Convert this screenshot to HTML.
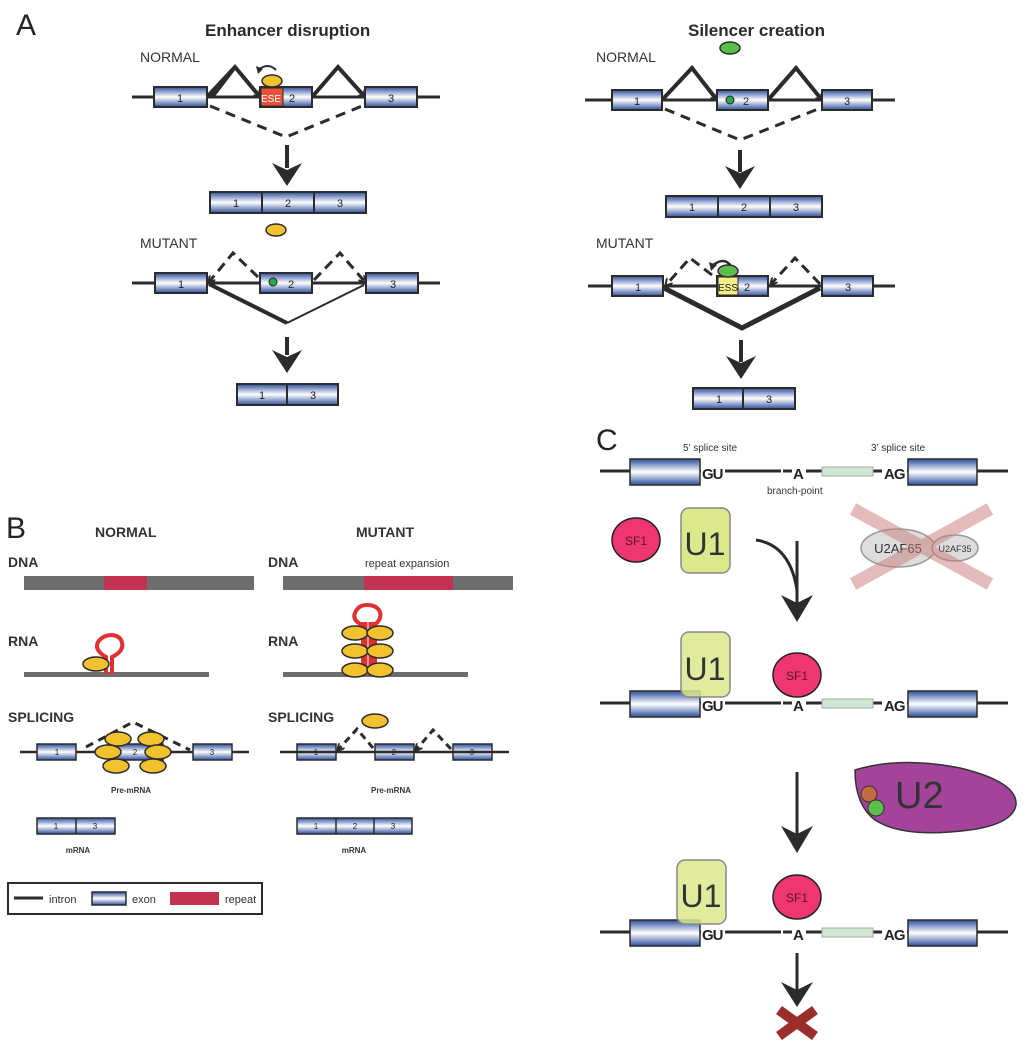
<!DOCTYPE html>
<html><head><meta charset="utf-8"><style>
html,body{margin:0;padding:0;background:#fff}
svg{display:block}
text{font-family:"Liberation Sans",sans-serif}
</style></head><body>
<svg width="1024" height="1044" viewBox="0 0 1024 1044" xmlns="http://www.w3.org/2000/svg">
<defs>
<linearGradient id="ex" x1="0" y1="0" x2="0" y2="1">
<stop offset="0" stop-color="#2d4f9e"/><stop offset="0.5" stop-color="#ffffff"/><stop offset="1" stop-color="#2d4f9e"/>
</linearGradient>
<marker id="ah" markerWidth="8" markerHeight="8" refX="6" refY="4" orient="auto" markerUnits="userSpaceOnUse"><path d="M0,0 L7,4 L0,8" fill="none" stroke="#2b2b2b" stroke-width="2"/></marker>
</defs>
<g fill="#2b2b2b" stroke="none">
<text x="16" y="35" font-size="30" fill="#222">A</text>
<text x="205" y="36" font-size="17" font-weight="bold">Enhancer disruption</text>
<text x="688" y="36" font-size="17" font-weight="bold">Silencer creation</text>
<text x="140" y="62" font-size="14" fill="#333">NORMAL</text>
<text x="140" y="248" font-size="14" fill="#333">MUTANT</text>
<text x="596" y="62" font-size="14" fill="#333">NORMAL</text>
<text x="596" y="248" font-size="14" fill="#333">MUTANT</text>
</g>

<!-- A left NORMAL -->
<g stroke="#2b2b2b" fill="none">
<line x1="132" y1="97" x2="440" y2="97" stroke-width="3"/>
<polyline points="207,97 235,67 260,97" stroke-width="4" marker-end="url(#ah)"/>
<path d="M212,97 L235,67" stroke-width="4"/>
<polyline points="312,97 338,67 365,97" stroke-width="4" marker-end="url(#ah)"/>
<polyline points="210,106 286,137 362,106" stroke-width="3" stroke-dasharray="10,7"/>
<line x1="287" y1="145" x2="287" y2="168" stroke-width="4"/>
</g>
<g stroke="#2b2b2b" stroke-width="2" fill="url(#ex)">
<rect x="154" y="87" width="53" height="20"/>
<rect x="260" y="87" width="52" height="20"/>
<rect x="365" y="87" width="52" height="20"/>
<rect x="210" y="192" width="156" height="21"/>
<line x1="262" y1="192" x2="262" y2="213"/><line x1="314" y1="192" x2="314" y2="213"/>
</g>
<rect x="261" y="88" width="22" height="18" fill="#e8503a" stroke="#2b2b2b" stroke-width="1"/>
<g font-size="11" fill="#222" text-anchor="middle">
<text x="180" y="102">1</text><text x="271" y="102" font-size="10" fill="#fff">ESE</text><text x="292" y="102">2</text><text x="391" y="102">3</text>
<text x="236" y="207">1</text><text x="288" y="207">2</text><text x="340" y="207">3</text>
</g>
<ellipse cx="272" cy="81" rx="10" ry="6" fill="#f2c12e" stroke="#2b2b2b" stroke-width="1.5"/>
<path d="M276,70 Q268,62 258,70" fill="none" stroke="#2b2b2b" stroke-width="2"/>
<path d="M256,66 L258,74 L263,69 Z" fill="#2b2b2b"/>
<path d="M272,163 L287,186 L302,163 L287,170 Z" fill="#2b2b2b"/>

<!-- A left MUTANT -->
<ellipse cx="276" cy="230" rx="10" ry="6" fill="#f2c12e" stroke="#2b2b2b" stroke-width="1.5"/>
<g stroke="#2b2b2b" fill="none">
<line x1="132" y1="283" x2="440" y2="283" stroke-width="3"/>
<polyline points="258,277 233,253 209,282" stroke-width="3" stroke-dasharray="10,6" marker-end="url(#ah)"/>
<polyline points="314,280 340,253 365,282" stroke-width="3" stroke-dasharray="10,6" marker-end="url(#ah)"/>
<path d="M209,284 L287,323" stroke-width="4"/>
<path d="M287,323 L364,285" stroke-width="2"/>
<line x1="287" y1="337" x2="287" y2="355" stroke-width="4"/>
</g>
<g stroke="#2b2b2b" stroke-width="2" fill="url(#ex)">
<rect x="155" y="273" width="52" height="20"/>
<rect x="260" y="273" width="52" height="20"/>
<rect x="366" y="273" width="52" height="20"/>
<rect x="237" y="384" width="101" height="21"/>
<line x1="287" y1="384" x2="287" y2="405"/>
</g>
<circle cx="273" cy="282" r="4" fill="#2ca84a" stroke="#222" stroke-width="1"/>
<g font-size="11" fill="#222" text-anchor="middle">
<text x="181" y="288">1</text><text x="291" y="288">2</text><text x="393" y="288">3</text>
<text x="262" y="399">1</text><text x="313" y="399">3</text>
</g>
<path d="M272,350 L287,373 L302,350 L287,357 Z" fill="#2b2b2b"/>

<!-- A right NORMAL -->
<ellipse cx="730" cy="48" rx="10" ry="6" fill="#5cbf4a" stroke="#2b2b2b" stroke-width="1.5"/>
<g stroke="#2b2b2b" fill="none">
<line x1="585" y1="100" x2="895" y2="100" stroke-width="3"/>
<polyline points="662,100 692,68 717,100" stroke-width="4" marker-end="url(#ah)"/>
<polyline points="768,100 796,68 822,100" stroke-width="4" marker-end="url(#ah)"/>
<polyline points="665,109 740,140 818,109" stroke-width="3" stroke-dasharray="10,7"/>
<line x1="740" y1="150" x2="740" y2="172" stroke-width="4"/>
</g>
<g stroke="#2b2b2b" stroke-width="2" fill="url(#ex)">
<rect x="612" y="90" width="50" height="20"/>
<rect x="717" y="90" width="51" height="20"/>
<rect x="822" y="90" width="50" height="20"/>
<rect x="666" y="196" width="156" height="21"/>
<line x1="718" y1="196" x2="718" y2="217"/><line x1="770" y1="196" x2="770" y2="217"/>
</g>
<circle cx="730" cy="100" r="4" fill="#2ca84a" stroke="#222" stroke-width="1"/>
<g font-size="11" fill="#222" text-anchor="middle">
<text x="637" y="105">1</text><text x="746" y="105">2</text><text x="847" y="105">3</text>
<text x="692" y="211">1</text><text x="744" y="211">2</text><text x="796" y="211">3</text>
</g>
<path d="M725,166 L740,189 L755,166 L740,173 Z" fill="#2b2b2b"/>

<!-- A right MUTANT -->
<g stroke="#2b2b2b" fill="none">
<line x1="588" y1="286" x2="895" y2="286" stroke-width="3"/>
<polyline points="712,275 690,258 666,285" stroke-width="3" stroke-dasharray="10,6" marker-end="url(#ah)"/>
<polyline points="820,284 795,258 771,284" stroke-width="3" stroke-dasharray="10,6" marker-end="url(#ah)"/>
<polyline points="664,288 742,328 820,288" stroke-width="5"/>
<line x1="741" y1="340" x2="741" y2="362" stroke-width="4"/>
<path d="M731,266 Q724,256 712,266" stroke-width="2.5"/>
</g>
<path d="M709,262 L711,271 L717,265 Z" fill="#2b2b2b"/>
<g stroke="#2b2b2b" stroke-width="2" fill="url(#ex)">
<rect x="612" y="276" width="51" height="20"/>
<rect x="717" y="276" width="51" height="20"/>
<rect x="822" y="276" width="51" height="20"/>
<rect x="693" y="388" width="102" height="21"/>
<line x1="743" y1="388" x2="743" y2="409"/>
</g>
<rect x="718" y="277" width="20" height="18" fill="#f5ef8a" stroke="#2b2b2b" stroke-width="1"/>
<ellipse cx="728" cy="271" rx="10" ry="6" fill="#5cbf4a" stroke="#2b2b2b" stroke-width="1.5"/>
<g font-size="11" fill="#222" text-anchor="middle">
<text x="638" y="291">1</text><text x="728" y="291" font-size="10">ESS</text><text x="747" y="291">2</text><text x="848" y="291">3</text>
<text x="719" y="403">1</text><text x="769" y="403">3</text>
</g>
<path d="M726,356 L741,379 L756,356 L741,363 Z" fill="#2b2b2b"/>

<!-- B -->
<text x="6" y="538" font-size="30" fill="#222">B</text>
<g font-weight="bold" fill="#333" font-size="14">
<text x="95" y="537">NORMAL</text><text x="356" y="537">MUTANT</text>
<text x="8" y="567">DNA</text><text x="268" y="567">DNA</text>
<text x="8" y="646">RNA</text><text x="268" y="646">RNA</text>
<text x="8" y="722">SPLICING</text><text x="268" y="722">SPLICING</text>
</g>
<text x="365" y="567" font-size="11" fill="#333">repeat expansion</text>
<rect x="24" y="576" width="230" height="14" fill="#6d6d6d"/>
<rect x="104" y="576" width="43" height="14" fill="#c33351"/>
<rect x="283" y="576" width="230" height="14" fill="#6d6d6d"/>
<rect x="364" y="576" width="89" height="14" fill="#c33351"/>
<!-- RNA normal -->
<rect x="24" y="672" width="185" height="5" fill="#6d6d6d"/>
<path d="M106,674 L106,657 Q94,650 98,642 Q103,635 112,635 Q121,636 122,643 Q124,651 112,657 L112,674" fill="none" stroke="#e03030" stroke-width="4"/>
<ellipse cx="96" cy="664" rx="13" ry="7" fill="#f2c12e" stroke="#2b2b2b" stroke-width="1.5"/>
<!-- RNA mutant -->
<rect x="283" y="672" width="185" height="5" fill="#6d6d6d"/>
<rect x="361" y="622" width="16" height="52" fill="#e03030"/>
<line x1="368" y1="622" x2="368" y2="674" stroke="#fff" stroke-width="1"/>
<path d="M362,625 Q352,620 355,613 Q358,605 367,605 Q377,605 380,612 Q382,620 374,625" fill="none" stroke="#e03030" stroke-width="4"/>
<g fill="#f2c12e" stroke="#2b2b2b" stroke-width="1.5">
<ellipse cx="355" cy="633" rx="13" ry="7"/><ellipse cx="380" cy="633" rx="13" ry="7"/>
<ellipse cx="355" cy="651" rx="13" ry="7"/><ellipse cx="380" cy="651" rx="13" ry="7"/>
<ellipse cx="355" cy="670" rx="13" ry="7"/><ellipse cx="380" cy="670" rx="13" ry="7"/>
</g>
<!-- splicing normal -->
<line x1="20" y1="752" x2="249" y2="752" stroke="#2b2b2b" stroke-width="2.5"/>
<polyline points="86,747 133,722 190,750" fill="none" stroke="#2b2b2b" stroke-width="3" stroke-dasharray="8,6"/>
<g stroke="#2b2b2b" stroke-width="1.5" fill="url(#ex)">
<rect x="37" y="744" width="39" height="16"/><rect x="108" y="744" width="55" height="16"/><rect x="193" y="744" width="39" height="16"/>
<rect x="297" y="744" width="39" height="16"/><rect x="375" y="744" width="39" height="16"/><rect x="453" y="744" width="39" height="16"/>
<rect x="37" y="818" width="78" height="16"/><line x1="76" y1="818" x2="76" y2="834"/>
<rect x="297" y="818" width="115" height="16"/><line x1="336" y1="818" x2="336" y2="834"/><line x1="374" y1="818" x2="374" y2="834"/>
</g>
<g fill="#f2c12e" stroke="#2b2b2b" stroke-width="1.5">
<ellipse cx="118" cy="739" rx="13" ry="7"/><ellipse cx="151" cy="739" rx="13" ry="7"/>
<ellipse cx="108" cy="752" rx="13" ry="7"/><ellipse cx="158" cy="752" rx="13" ry="7"/>
<ellipse cx="116" cy="766" rx="13" ry="7"/><ellipse cx="153" cy="766" rx="13" ry="7"/>
</g>
<!-- splicing mutant -->
<line x1="280" y1="752" x2="509" y2="752" stroke="#2b2b2b" stroke-width="2.5"/>
<polyline points="373,748 357,729 338,750" fill="none" stroke="#2b2b2b" stroke-width="3" stroke-dasharray="7,5" marker-end="url(#ah)"/>
<polyline points="451,749 433,730 416,750" fill="none" stroke="#2b2b2b" stroke-width="3" stroke-dasharray="7,5" marker-end="url(#ah)"/>
<ellipse cx="375" cy="721" rx="13" ry="7" fill="#f2c12e" stroke="#2b2b2b" stroke-width="1.5"/>
<g font-size="8" fill="#222" text-anchor="middle">
<text x="57" y="755">1</text><text x="135" y="755">2</text><text x="212" y="755">3</text>
<text x="316" y="755">1</text><text x="394" y="755">2</text><text x="472" y="755">3</text>
<text x="56" y="829">1</text><text x="95" y="829">3</text>
<text x="316" y="829">1</text><text x="355" y="829">2</text><text x="393" y="829">3</text>
</g>
<g font-size="8" font-weight="bold" fill="#333" text-anchor="middle">
<text x="131" y="793">Pre-mRNA</text><text x="391" y="793">Pre-mRNA</text>
<text x="78" y="853">mRNA</text><text x="354" y="853">mRNA</text>
</g>
<rect x="8" y="883" width="254" height="31" fill="#fff" stroke="#2b2b2b" stroke-width="2"/>
<line x1="14" y1="898" x2="43" y2="898" stroke="#2b2b2b" stroke-width="3"/>
<text x="49" y="903" font-size="11" fill="#333">intron</text>
<rect x="92" y="892" width="34" height="13" fill="url(#ex)" stroke="#2b2b2b" stroke-width="1.5"/>
<text x="132" y="903" font-size="11" fill="#333">exon</text>
<rect x="170" y="892" width="49" height="13" fill="#c33351"/>
<text x="225" y="903" font-size="11" fill="#333">repeat</text>

<!-- C -->
<text x="596" y="450" font-size="30" fill="#222">C</text>
<text x="683" y="451" font-size="10" fill="#333">5’ splice site</text>
<text x="871" y="451" font-size="10" fill="#333">3’ splice site</text>
<text x="767" y="494" font-size="10" fill="#333">branch-point</text>

<g id="row">
<line x1="600" y1="471" x2="1008" y2="471" stroke="#2b2b2b" stroke-width="3"/>
<rect x="630" y="459" width="70" height="26" fill="url(#ex)" stroke="#2b2b2b" stroke-width="1.5"/>
<rect x="908" y="459" width="69" height="26" fill="url(#ex)" stroke="#2b2b2b" stroke-width="1.5"/>
<rect x="781" y="465" width="38" height="12" fill="#fff"/>
<rect x="822" y="467" width="51" height="9" fill="#cfe8d4" stroke="#aaa" stroke-width="1"/>
<rect x="701" y="462" width="24" height="18" fill="#fff"/>
<rect x="882" y="462" width="25" height="18" fill="#fff"/>
<text x="702" y="479" font-size="15" font-weight="bold" fill="#222" letter-spacing="-1">GU</text>
<text x="793" y="479" font-size="15" font-weight="bold" fill="#222">A</text>
<text x="884" y="479" font-size="15" font-weight="bold" fill="#222" letter-spacing="-1">AG</text>
<line x1="783" y1="471" x2="792" y2="471" stroke="#2b2b2b" stroke-width="3"/>
<line x1="806" y1="471" x2="819" y2="471" stroke="#2b2b2b" stroke-width="3"/>
</g>
<use href="#row" y="232"/>
<use href="#row" y="461"/>

<ellipse cx="636" cy="540" rx="24" ry="22" fill="#ee3670" stroke="#222" stroke-width="1.5"/>
<text x="636" y="545" font-size="12" fill="#5a1030" text-anchor="middle">SF1</text>
<rect x="681" y="508" width="49" height="65" rx="8" fill="#dce88c" stroke="#888" stroke-width="1.5"/>
<text x="705" y="555" font-size="32" fill="#333" text-anchor="middle">U1</text>
<path d="M756,540 Q790,545 797,590" fill="none" stroke="#2b2b2b" stroke-width="3"/>
<line x1="797" y1="541" x2="797" y2="605" stroke="#2b2b2b" stroke-width="3"/>
<path d="M781,595 L797,622 L813,595 L797,603 Z" fill="#2b2b2b"/>
<ellipse cx="898" cy="548" rx="37" ry="19" fill="#ddd" stroke="#999" stroke-width="1.5"/>
<ellipse cx="955" cy="548" rx="23" ry="13" fill="#ddd" stroke="#999" stroke-width="1.5"/>
<text x="898" y="553" font-size="13" fill="#333" text-anchor="middle">U2AF65</text>
<text x="955" y="552" font-size="9" fill="#333" text-anchor="middle">U2AF35</text>
<g stroke="#c97a7a" stroke-width="13" opacity="0.5">
<line x1="853" y1="509" x2="990" y2="584"/><line x1="990" y1="509" x2="853" y2="584"/>
</g>

<rect x="681" y="632" width="49" height="65" rx="8" fill="#dce88c" fill-opacity="0.85" stroke="#888" stroke-width="1.5"/>
<text x="705" y="680" font-size="32" fill="#333" text-anchor="middle">U1</text>
<ellipse cx="797" cy="675" rx="24" ry="22" fill="#ee3670" stroke="#222" stroke-width="1.5"/>
<text x="797" y="680" font-size="12" fill="#5a1030" text-anchor="middle">SF1</text>

<line x1="797" y1="772" x2="797" y2="835" stroke="#2b2b2b" stroke-width="3"/>
<path d="M781,826 L797,853 L813,826 L797,834 Z" fill="#2b2b2b"/>
<path d="M855,770 Q900,756 960,768 Q1018,782 1016,805 Q1012,828 950,832 Q900,836 875,820 Q855,805 855,770 Z" fill="#a3449a" stroke="#333" stroke-width="1.5"/>
<circle cx="869" cy="794" r="8" fill="#c46a45" stroke="#333" stroke-width="1"/>
<circle cx="876" cy="808" r="8" fill="#5cbf4a" stroke="#333" stroke-width="1"/>
<text x="895" y="808" font-size="38" fill="#333">U2</text>

<rect x="677" y="860" width="49" height="64" rx="8" fill="#dce88c" fill-opacity="0.85" stroke="#888" stroke-width="1.5"/>
<text x="701" y="907" font-size="32" fill="#333" text-anchor="middle">U1</text>
<ellipse cx="797" cy="897" rx="24" ry="22" fill="#ee3670" stroke="#222" stroke-width="1.5"/>
<text x="797" y="902" font-size="12" fill="#5a1030" text-anchor="middle">SF1</text>

<line x1="797" y1="953" x2="797" y2="990" stroke="#2b2b2b" stroke-width="3"/>
<path d="M781,982 L797,1007 L813,982 L797,990 Z" fill="#2b2b2b"/>
<g stroke="#9b2d2d" stroke-width="10">
<line x1="779" y1="1010" x2="815" y2="1036"/><line x1="815" y1="1010" x2="779" y2="1036"/>
</g>
</svg>
</body></html>
